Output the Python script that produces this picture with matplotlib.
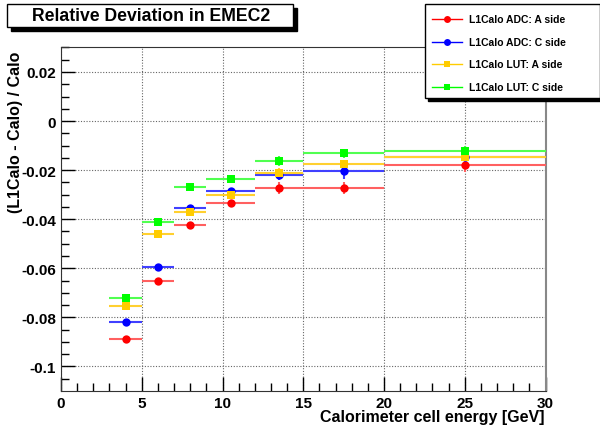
import matplotlib
matplotlib.use("Agg")
import matplotlib.pyplot as plt
import matplotlib.patches as mpatches
from matplotlib.lines import Line2D
from matplotlib.ticker import MultipleLocator
import numpy as np

plt.rcParams["font.family"] = ["Liberation Sans", "DejaVu Sans"]
plt.rcParams["font.weight"] = "bold"

# ── Data ─────────────────────────────────────────────────────────────────────
bin_lo = [3, 5, 7, 9, 12, 15, 20]
bin_hi = [5, 7, 9, 12, 15, 20, 30]
x_pts  = [4, 6, 8, 10.5, 13.5, 17.5, 25]

adc_a = [-0.0888, -0.0650, -0.0425, -0.0335, -0.0273, -0.0273, -0.0178]
adc_c = [-0.0818, -0.0593, -0.0355, -0.0285, -0.0220, -0.0205, -0.0145]
lut_a = [-0.0754, -0.0460, -0.0370, -0.0300, -0.0210, -0.0177, -0.0148]
lut_c = [-0.0722, -0.0410, -0.0267, -0.0238, -0.0163, -0.0132, -0.0123]

err_adc_a = [0.0010, 0.0010, 0.0010, 0.0010, 0.0025, 0.0025, 0.0030]
err_adc_c = [0.0010, 0.0010, 0.0010, 0.0010, 0.0020, 0.0030, 0.0020]
err_lut_a = [0.0010, 0.0010, 0.0010, 0.0010, 0.0020, 0.0020, 0.0020]
err_lut_c = [0.0010, 0.0010, 0.0010, 0.0010, 0.0020, 0.0020, 0.0020]

labels  = ["L1Calo ADC: A side", "L1Calo ADC: C side",
           "L1Calo LUT: A side", "L1Calo LUT: C side"]
colors  = ["#ff0000", "#0000ff", "#ffcc00", "#00ff00"]
ecolors = ["#ff6060", "#4040ff", "#ffd030", "#50ff50"]
markers = ["o", "o", "s", "s"]

# ── Figure ───────────────────────────────────────────────────────────────────
fig = plt.figure(figsize=(6.0, 4.27), dpi=100)
W, H = 600.0, 427.0
ax = fig.add_axes([61 / W, 1 - 391.7 / H, (545.5 - 61) / W, (391.7 - 47.7) / H])

xerr = [np.array(x_pts) - np.array(bin_lo), np.array(bin_hi) - np.array(x_pts)]
series = [(adc_a, err_adc_a), (adc_c, err_adc_c), (lut_a, err_lut_a), (lut_c, err_lut_c)]
for (vals, errs), c, ec, m in zip(series, colors, ecolors, markers):
    ax.errorbar(x_pts, vals, xerr=xerr, yerr=errs, fmt=m, color=c, ecolor=ec,
                elinewidth=1.5, capsize=2, capthick=1.2, markersize=6,
                markeredgewidth=0, zorder=3)

ax.set_xlim(0, 30)
ax.set_ylim(-0.1099, 0.0303)
ax.xaxis.set_major_locator(MultipleLocator(5))
ax.xaxis.set_minor_locator(MultipleLocator(1))
ax.yaxis.set_major_locator(MultipleLocator(0.02))
ax.yaxis.set_minor_locator(MultipleLocator(0.005))
ax.tick_params(which="both", direction="in", top=False, right=False,
               labelsize=11, width=1)
ax.tick_params(which="major", length=10)
ax.tick_params(which="minor", length=6)
ax.yaxis.set_major_formatter(plt.FuncFormatter(lambda v, p: f"{v:g}" if abs(v) > 1e-9 else "0"))
ax.grid(True, which="major", color="#666666", linestyle=(0, (1, 1.5)), linewidth=0.8)
for lab in ax.get_xticklabels() + ax.get_yticklabels():
    lab.set_fontweight("bold")
for s in ["left", "bottom", "top"]:
    ax.spines[s].set_color("#333333")
ax.spines["right"].set_color("#888888")
ax.spines["right"].set_linewidth(1.5)

# axis titles placed like ROOT (aligned to the axis end)
fig.text(545 / W, 1 - 418 / H, "Calorimeter cell energy [GeV]", ha="right",
         va="center", fontsize=11.5, fontweight="bold")
fig.text(16 / W, 1 - 213 / H, "(L1Calo - Calo) / Calo", rotation=90, ha="center",
         va="bottom", fontsize=11.5, fontweight="bold", zorder=1)

# ── Boxes with shadow ───────────────────────────────────────────────────────
def box(x0, y0, x1, y1, shadow=4):
    fig.patches.append(mpatches.Rectangle((x0 / W + shadow / W, 1 - y1 / H - shadow / H),
                                          (x1 - x0) / W, (y1 - y0) / H,
                                          transform=fig.transFigure, facecolor="black",
                                          edgecolor="black", zorder=5))
    fig.patches.append(mpatches.Rectangle((x0 / W, 1 - y1 / H), (x1 - x0) / W, (y1 - y0) / H,
                                          transform=fig.transFigure, facecolor="white",
                                          edgecolor="black", linewidth=1, zorder=6))

box(7, 5, 293, 28)
fig.text(151 / W, 1 - 16.5 / H, "Relative Deviation in EMEC2", ha="center", va="center",
         fontsize=12.7, fontweight="bold", zorder=7)

box(425, 5, 600, 99, shadow=3)
ys = [20, 43, 65, 88]
for lab, c, m, yy in zip(labels, colors, markers, ys):
    fig.lines.append(Line2D([432 / W, 462 / W], [1 - yy / H] * 2, color=c, linewidth=1,
                            transform=fig.transFigure, zorder=7))
    fig.lines.append(Line2D([447 / W], [1 - yy / H], color=c, marker=m, markersize=5,
                            markeredgewidth=0, transform=fig.transFigure, zorder=8))
    fig.text(469 / W, 1 - yy / H, lab, ha="left", va="center", fontsize=7.5,
             fontweight="bold", zorder=8)

fig.savefig("out.png", dpi=100)
